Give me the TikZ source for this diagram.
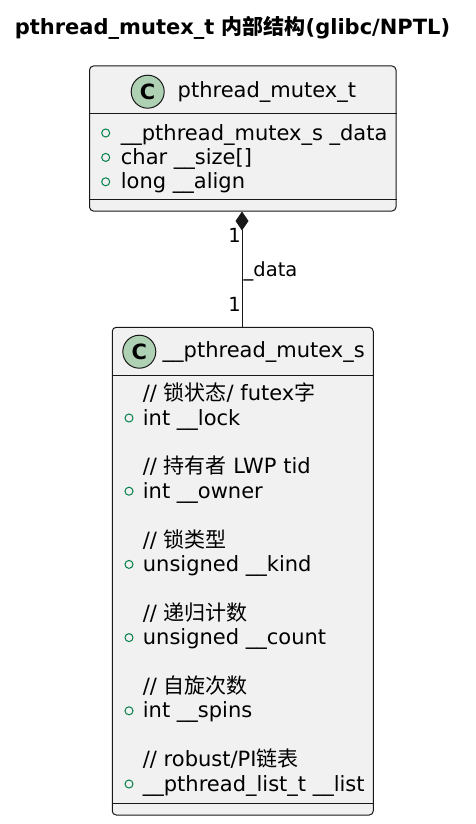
\documentclass[tikz,border=0pt]{standalone}
\usepackage{fontspec}
\setmainfont{DejaVu Sans}
\newfontfamily\cjk{Noto Sans CJK SC}
\usetikzlibrary{arrows.meta}
\definecolor{umlline}{HTML}{181818}
\definecolor{umlfill}{HTML}{F1F1F1}
\definecolor{umlcirc}{HTML}{ADD1B2}
\definecolor{umlgreen}{HTML}{038048}
\tikzset{
  classbox/.style={draw=umlline, fill=umlfill, line width=1pt, rounded corners=4pt, inner sep=0pt},
  sepline/.style={draw=umlline, line width=1pt},
  txt/.style={anchor=base west, inner sep=0pt, font=\fontsize{21}{24}\selectfont},
  lbl/.style={inner sep=0pt, font=\fontsize{19.5}{22}\selectfont},
  classicon/.style={circle, draw=umlline, fill=umlcirc, line width=1pt, minimum size=33pt, inner sep=0pt, font=\fontsize{21}{24}\selectfont\bfseries},
  pubmark/.style={circle, draw=umlgreen, line width=1pt, minimum size=8pt, inner sep=0pt},
  conn/.style={draw=umlline, line width=1pt},
}
\begin{document}
\begin{tikzpicture}[x=1pt,y=-1pt]
\useasboundingbox (0,0) rectangle (475,824);
% title
\node[anchor=base, inner sep=0pt, font=\fontsize{21}{24}\selectfont\bfseries] (title) at (232.5,35) {pthread\_mutex\_t {\cjk\bfseries 内部结构}(glibc/NPTL)};

% class pthread_mutex_t
\node[classbox, minimum width=306.5pt, minimum height=145pt] (mt) at (242.75,138.5) {};
\draw[sepline] (mt.west |- 0,114) -- (mt.east |- 0,114);
\draw[sepline] (mt.west |- 0,199.3) -- (mt.east |- 0,199.3);
\node[classicon] (mtc) at (147.7,91.7) {C};
\node[txt] (mtn) at (177.5,97.5) {pthread\_mutex\_t};
\node[pubmark] (mp1) at (105.7,133) {};
\node[txt] (ma1) at (120.7,140) {\_\_pthread\_mutex\_s \_data};
\node[pubmark] (mp2) at (105.7,157.4) {};
\node[txt] (ma2) at (120.7,164.4) {char \_\_size[]};
\node[pubmark] (mp3) at (105.7,181.8) {};
\node[txt] (ma3) at (120.7,188.8) {long \_\_align};

% class __pthread_mutex_s
\node[classbox, minimum width=261pt, minimum height=487.7pt] (ms) at (242.75,571.15) {};
\draw[sepline] (ms.west |- 0,375) -- (ms.east |- 0,375);
\draw[sepline] (ms.west |- 0,803.3) -- (ms.east |- 0,803.3);
\node[classicon] (msc) at (139.3,351.7) {C};
\node[txt] (msn) at (162.5,357.5) {\_\_pthread\_mutex\_s};

\node[txt] (c1) at (142.7,400.6) {// {\cjk 锁状态}/ futex{\cjk 字}};
\node[pubmark] (p1) at (129,418) {};
\node[txt] (a1) at (142.7,425) {int \_\_lock};

\node[txt] (c2) at (142.7,473.8) {// {\cjk 持有者} LWP tid};
\node[pubmark] (p2) at (129,491.2) {};
\node[txt] (a2) at (142.7,498.2) {int \_\_owner};

\node[txt] (c3) at (142.7,547) {// {\cjk 锁类型}};
\node[pubmark] (p3) at (129,564.4) {};
\node[txt] (a3) at (142.7,571.4) {unsigned \_\_kind};

\node[txt] (c4) at (142.7,620.2) {// {\cjk 递归计数}};
\node[pubmark] (p4) at (129,637.6) {};
\node[txt] (a4) at (142.7,644.6) {unsigned \_\_count};

\node[txt] (c5) at (142.7,693.4) {// {\cjk 自旋次数}};
\node[pubmark] (p5) at (129,710.8) {};
\node[txt] (a5) at (142.7,717.8) {int \_\_spins};

\node[txt] (c6) at (142.7,766.6) {// robust/PI{\cjk 链表}};
\node[pubmark] (p6) at (129,784) {};
\node[txt] (a6) at (142.7,791) {\_\_pthread\_list\_t \_\_list};

% connector
\draw[conn, {Diamond[length=19pt,width=13pt,fill=umlline]}-] (mt.south -| 242,0) -- (ms.north -| 242,0);
\node[lbl, anchor=base east] (m1) at (241,242.3) {1};
\node[lbl, anchor=base west] (rl) at (243.5,276) {\_data};
\node[lbl, anchor=base east] (m2) at (241,311.7) {1};
\end{tikzpicture}
\end{document}
